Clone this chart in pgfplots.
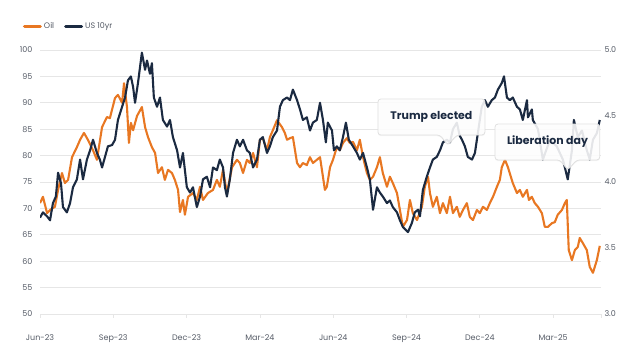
\documentclass[border=0pt]{standalone}
\usepackage{fontspec}
\setmainfont{Poppins}
\usepackage{pgfplots}
\pgfplotsset{compat=1.18}
\usetikzlibrary{shadows}
\definecolor{oilc}{HTML}{E87722}
\definecolor{navyc}{HTML}{1B2A41}
\definecolor{labc}{HTML}{555B66}
\definecolor{gridc}{HTML}{E6E6E6}
\pgfplotsset{
  base/.style={
    width=561bp, height=264bp, scale only axis,
    at={(0,0)}, anchor=south west,
    xmin=0, xmax=22.96,
    tick label style={font=\fontsize{8}{9}\selectfont, text=labc},
    /pgf/number format/assume math mode=true,
    axis line style={draw=none},
    ytick style={draw=none},
  }
}
\begin{document}
\begin{tikzpicture}
\useasboundingbox (-40bp,-50bp) rectangle (604bp,314bp);
\begin{axis}[base,
  ymin=50, ymax=100, ytick={50,55,...,100},
  ymajorgrids, grid style={draw=gridc, line width=0.8bp},
  xtick={0,3,...,21},
  xticklabels={Jun-23,Sep-23,Dec-23,Mar-24,Jun-24,Sep-24,Dec-24,Mar-25},
  extra x ticks={22.96}, extra x tick labels={},
  extra x tick style={grid=none},
  xtick pos=bottom, ytick pos=left,
  tick align=outside, major tick length=4bp,
  xtick style={draw=gridc, line width=0.8bp},
  xticklabel style={yshift=-13bp},
  legend columns=2,
  legend style={draw=none, fill=none, font=\fontsize{8}{9}\selectfont, text=labc,
    at={(axis description cs:-0.036,1.09)}, anchor=west,
    /tikz/every even column/.append style={column sep=8bp}},
  legend image code/.code={\draw[#1, line width=3bp, line cap=round] (0bp,0bp) -- (16bp,0bp);},
]
\addplot[oilc, line width=2.1bp, line join=round] coordinates {
(0.00,71.0)(0.12,72.2)(0.29,69.1)(0.41,69.7)(0.61,70.3)(0.74,73.5)(0.90,76.7)(1.02,74.8)
(1.15,75.4)(1.31,79.7)(1.51,81.6)(1.64,83.0)(1.80,84.3)(1.96,83.0)(2.17,81.0)(2.33,79.2)
(2.54,85.4)(2.74,87.3)(2.86,87.1)(3.07,90.9)(3.19,91.5)(3.36,90.0)(3.44,93.7)(3.56,89.2)
(3.64,82.4)(3.72,86.2)(3.81,84.8)(3.97,87.5)(4.17,89.2)(4.30,85.4)(4.42,83.5)(4.58,81.6)
(4.71,80.5)(4.83,76.7)(4.99,77.8)(5.11,75.4)(5.24,77.3)(5.40,76.7)(5.52,75.4)(5.65,73.5)
(5.73,69.3)(5.85,71.6)(5.93,68.8)(6.06,72.2)(6.26,72.9)(6.42,71.6)(6.55,74.1)(6.67,71.6)
(6.87,72.9)(7.08,73.5)(7.24,75.4)(7.36,74.1)(7.49,77.3)(7.65,72.9)(7.86,77.8)(8.06,79.2)
(8.18,78.6)(8.31,76.7)(8.47,79.2)(8.59,78.6)(8.72,80.5)(8.88,77.8)(9.00,83.0)(9.12,83.3)
(9.29,81.0)(9.41,83.5)(9.53,84.8)(9.70,86.7)(9.90,85.4)(10.02,84.3)(10.11,83.0)(10.23,83.3)
(10.35,83.5)(10.52,78.6)(10.64,77.8)(10.76,78.6)(10.92,78.2)(11.05,79.7)(11.17,78.6)(11.33,79.2)
(11.46,79.7)(11.58,76.0)(11.66,73.5)(11.74,74.1)(11.87,77.8)(11.99,79.2)(12.15,81.6)(12.27,81.0)
(12.40,82.4)(12.56,83.3)(12.68,82.4)(12.81,82.6)(12.97,81.0)(13.09,83.0)(13.22,79.7)(13.38,76.7)
(13.50,75.4)(13.63,76.0)(13.79,77.8)(13.91,79.7)(14.03,76.7)(14.20,74.1)(14.32,76.0)(14.44,74.8)
(14.61,72.9)(14.73,69.7)(14.85,66.5)(15.02,67.8)(15.14,71.6)(15.26,69.1)(15.43,67.8)(15.63,70.3)
(15.75,74.1)(15.88,76.0)(15.96,72.9)(16.08,70.3)(16.24,72.2)(16.37,69.1)(16.49,71.0)(16.65,69.1)
(16.78,72.2)(16.90,69.1)(17.06,70.3)(17.18,68.4)(17.31,69.7)(17.47,71.0)(17.59,68.4)(17.72,67.8)
(17.88,69.7)(18.00,69.1)(18.13,70.3)(18.29,69.7)(18.41,71.0)(18.54,72.2)(18.70,74.1)(18.82,75.4)
(18.90,77.8)(19.03,79.2)(19.15,77.8)(19.31,75.4)(19.35,74.8)(19.52,72.9)(19.64,73.5)(19.76,72.2)
(19.93,73.5)(20.01,71.6)(20.13,72.2)(20.25,71.0)(20.38,70.3)(20.54,69.1)(20.66,66.5)(20.79,66.5)
(20.95,67.2)(21.07,67.4)(21.19,68.8)(21.36,69.7)(21.48,71.0)(21.56,71.6)(21.64,62.1)(21.77,60.2)
(21.89,62.1)(22.01,62.7)(22.09,64.4)(22.22,63.4)(22.38,62.1)(22.50,58.9)(22.63,57.8)(22.79,60.2)
(22.91,62.9)
};
\addlegendentry{Oil}
\addlegendimage{navyc, line width=2.1bp}
\addlegendentry{US 10yr}
\end{axis}
\begin{axis}[base,
  ymin=3, ymax=5, ytick={3,3.5,...,5},
  axis y line*=right, axis x line=none,
  yticklabel style={/pgf/number format/.cd, fixed, fixed zerofill, precision=1},
]
\addplot[navyc, line width=2.1bp, line join=round] coordinates {
(0.00,3.73)(0.12,3.77)(0.29,3.74)(0.41,3.71)(0.53,3.84)(0.65,3.89)(0.74,4.07)(0.86,3.99)
(0.94,3.81)(1.10,3.77)(1.23,3.84)(1.35,3.96)(1.51,4.02)(1.64,4.17)(1.76,4.02)(1.92,4.17)
(2.05,4.24)(2.17,4.32)(2.33,4.22)(2.45,4.17)(2.54,4.11)(2.66,4.19)(2.78,4.27)(2.95,4.28)
(3.07,4.32)(3.19,4.47)(3.36,4.57)(3.48,4.64)(3.60,4.77)(3.72,4.80)(3.81,4.72)(3.89,4.60)
(4.01,4.75)(4.17,4.98)(4.30,4.85)(4.38,4.92)(4.50,4.82)(4.58,4.90)(4.66,4.64)(4.79,4.57)
(4.91,4.64)(5.03,4.47)(5.20,4.42)(5.32,4.47)(5.44,4.34)(5.61,4.24)(5.73,4.11)(5.85,4.22)
(6.01,3.96)(6.14,3.92)(6.26,3.96)(6.42,3.81)(6.55,3.89)(6.67,4.02)(6.83,4.04)(6.96,3.96)
(7.08,4.11)(7.24,4.09)(7.36,4.17)(7.49,4.11)(7.57,3.96)(7.65,3.89)(7.77,4.02)(7.90,4.22)
(8.06,4.32)(8.18,4.27)(8.31,4.32)(8.47,4.24)(8.59,4.22)(8.72,4.11)(8.88,4.17)(9.00,4.32)
(9.12,4.34)(9.29,4.22)(9.41,4.27)(9.53,4.34)(9.70,4.39)(9.82,4.57)(9.94,4.62)(10.11,4.64)
(10.23,4.62)(10.35,4.70)(10.52,4.62)(10.64,4.55)(10.76,4.47)(10.92,4.49)(11.05,4.39)(11.17,4.45)
(11.33,4.47)(11.46,4.60)(11.58,4.47)(11.70,4.30)(11.78,4.45)(11.95,4.39)(12.03,4.24)(12.15,4.27)
(12.27,4.24)(12.40,4.34)(12.52,4.45)(12.64,4.32)(12.81,4.27)(12.97,4.22)(13.09,4.17)(13.22,4.22)
(13.38,4.11)(13.50,4.02)(13.63,3.79)(13.79,3.96)(13.91,3.92)(14.03,3.89)(14.20,3.84)(14.32,3.86)
(14.44,3.81)(14.61,3.77)(14.73,3.71)(14.85,3.66)(15.06,3.62)(15.22,3.69)(15.34,3.77)(15.47,3.79)
(15.55,3.74)(15.67,3.94)(15.83,4.04)(15.96,4.11)(16.08,4.17)(16.24,4.19)(16.37,4.24)(16.49,4.30)
(16.65,4.32)(16.78,4.30)(16.90,4.40)(17.06,4.45)(17.18,4.35)(17.27,4.32)(17.39,4.27)(17.51,4.19)
(17.68,4.17)(17.80,4.22)(17.92,4.37)(18.08,4.57)(18.21,4.62)(18.33,4.57)(18.49,4.62)(18.62,4.64)
(18.74,4.70)(18.90,4.75)(18.99,4.80)(19.11,4.64)(19.23,4.62)(19.35,4.64)(19.52,4.57)(19.64,4.55)
(19.76,4.47)(19.93,4.62)(19.97,4.49)(20.13,4.55)(20.17,4.47)(20.38,4.40)(20.58,4.17)(20.87,4.32)
(21.15,4.27)(21.40,4.17)(21.60,4.02)(21.77,4.24)(21.85,4.47)(22.01,4.34)(22.18,4.39)(22.38,4.24)
(22.50,4.17)(22.63,4.32)(22.79,4.37)(22.91,4.47)
};
% callouts
\draw[draw=black!12, fill=white, fill opacity=0.88, rounded corners=3bp, line width=0.8bp,
      drop shadow={opacity=0.08, shadow xshift=0bp, shadow yshift=-1.2bp}]
  (axis cs:13.83,4.629) -- (axis cs:18.21,4.629) -- (axis cs:18.21,4.356) --
  (axis cs:17.06,4.356) -- (axis cs:16.69,4.28) -- (axis cs:16.37,4.356) --
  (axis cs:13.83,4.356) -- cycle;
\node[font=\fontsize{11}{13}\selectfont\bfseries, text=navyc] at (axis cs:16.02,4.492) {Trump elected};
\draw[draw=black!12, fill=white, fill opacity=0.88, rounded corners=3bp, line width=0.8bp,
      drop shadow={opacity=0.08, shadow xshift=0bp, shadow yshift=-1.2bp}]
  (axis cs:18.62,4.439) -- (axis cs:22.91,4.439) -- (axis cs:22.91,4.167) --
  (axis cs:21.97,4.167) -- (axis cs:21.60,4.091) -- (axis cs:21.28,4.167) --
  (axis cs:18.62,4.167) -- cycle;
\node[font=\fontsize{11}{13}\selectfont\bfseries, text=navyc] at (axis cs:20.77,4.303) {Liberation day};
\end{axis}
\end{tikzpicture}
\end{document}
